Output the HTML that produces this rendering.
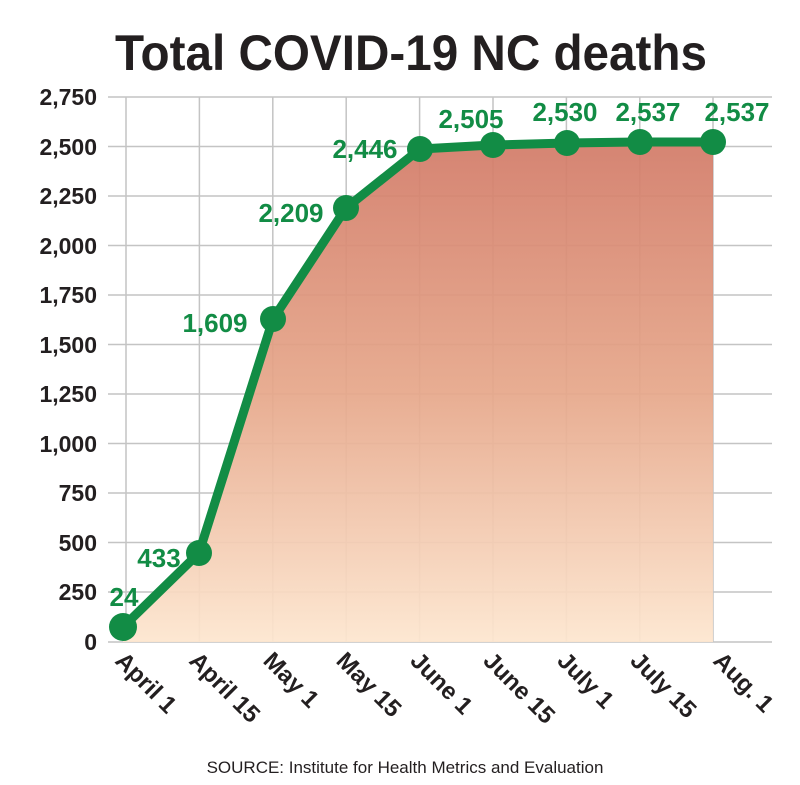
<!DOCTYPE html>
<html><head><style>html,body{margin:0;padding:0;background:#fff}svg{display:block}</style></head>
<body>
<svg width="800" height="785" viewBox="0 0 800 785" xmlns="http://www.w3.org/2000/svg" font-family="Liberation Sans, sans-serif">
<defs>
<linearGradient id="g" x1="0" y1="0" x2="0" y2="1">
<stop offset="0" stop-color="#d27b68"/>
<stop offset="0.5" stop-color="#e6a78a"/>
<stop offset="1" stop-color="#fde6cf"/>
</linearGradient>
</defs>
<text x="115" y="70" font-size="50" font-weight="bold" fill="#231f20" textLength="592" lengthAdjust="spacingAndGlyphs">Total COVID-19 NC deaths</text>
<g stroke="#c4c4c4" stroke-width="1.5">
<line x1="108" y1="97" x2="772" y2="97"/>
<line x1="108" y1="146.5" x2="772" y2="146.5"/>
<line x1="108" y1="196" x2="772" y2="196"/>
<line x1="108" y1="245.5" x2="772" y2="245.5"/>
<line x1="108" y1="295" x2="772" y2="295"/>
<line x1="108" y1="344.5" x2="772" y2="344.5"/>
<line x1="108" y1="394" x2="772" y2="394"/>
<line x1="108" y1="443.5" x2="772" y2="443.5"/>
<line x1="108" y1="493" x2="772" y2="493"/>
<line x1="108" y1="542.5" x2="772" y2="542.5"/>
<line x1="108" y1="592" x2="772" y2="592"/>
<line x1="108" y1="642" x2="772" y2="642"/>
<line x1="126" y1="97" x2="126" y2="642"/>
<line x1="199.4" y1="97" x2="199.4" y2="642"/>
<line x1="272.8" y1="97" x2="272.8" y2="642"/>
<line x1="346.2" y1="97" x2="346.2" y2="642"/>
<line x1="419.6" y1="97" x2="419.6" y2="642"/>
<line x1="493" y1="97" x2="493" y2="642"/>
<line x1="566.4" y1="97" x2="566.4" y2="642"/>
<line x1="639.8" y1="97" x2="639.8" y2="642"/>
<line x1="713" y1="97" x2="713" y2="642"/>
</g>
<polygon points="123,627 199,553 273,319 346,208 420,149 493,145 567,143 640,142 713,142 713,642 123,642" fill="url(#g)" opacity="0.93"/>
<polyline points="123,627 199,553 273,319 346,208 420,149 493,145 567,143 640,142 713,142" fill="none" stroke="#128c45" stroke-width="9" stroke-linejoin="round"/>
<g fill="#128c45">
<circle cx="123" cy="627" r="14"/><circle cx="199" cy="553" r="13"/><circle cx="273" cy="319" r="13"/><circle cx="346" cy="208" r="13"/><circle cx="420" cy="149" r="13"/><circle cx="493" cy="145" r="13"/><circle cx="567" cy="143" r="13"/><circle cx="640" cy="142" r="13"/><circle cx="713" cy="142" r="13"/>
</g>
<g fill="#128c45" font-size="26" font-weight="bold" text-anchor="middle">
<text x="124" y="606">24</text>
<text x="159" y="567">433</text>
<text x="215" y="332">1,609</text>
<text x="291" y="222">2,209</text>
<text x="365" y="158">2,446</text>
<text x="471" y="128">2,505</text>
<text x="565" y="121">2,530</text>
<text x="648" y="121">2,537</text>
<text x="737" y="121">2,537</text>
</g>
<g fill="#231f20" font-size="23" font-weight="bold" text-anchor="end">
<text x="97" y="105">2,750</text>
<text x="97" y="155">2,500</text>
<text x="97" y="204">2,250</text>
<text x="97" y="254">2,000</text>
<text x="97" y="303">1,750</text>
<text x="97" y="353">1,500</text>
<text x="97" y="402">1,250</text>
<text x="97" y="452">1,000</text>
<text x="97" y="501">750</text>
<text x="97" y="551">500</text>
<text x="97" y="600">250</text>
<text x="97" y="650">0</text>
</g>
<g fill="#231f20" font-size="24" font-weight="bold">
<text transform="translate(114,662) rotate(45)">April 1</text>
<text transform="translate(188,662) rotate(45)">April 15</text>
<text transform="translate(262,662) rotate(45)">May 1</text>
<text transform="translate(335,662) rotate(45)">May 15</text>
<text transform="translate(409,662) rotate(45)">June 1</text>
<text transform="translate(482,662) rotate(45)">June 15</text>
<text transform="translate(556,662) rotate(45)">July 1</text>
<text transform="translate(629,662) rotate(45)">July 15</text>
<text transform="translate(712,662) rotate(45)">Aug. 1</text>
</g>
<text x="405" y="773" font-size="17" fill="#231f20" text-anchor="middle">SOURCE: Institute for Health Metrics and Evaluation</text>
</svg>
</body></html>
